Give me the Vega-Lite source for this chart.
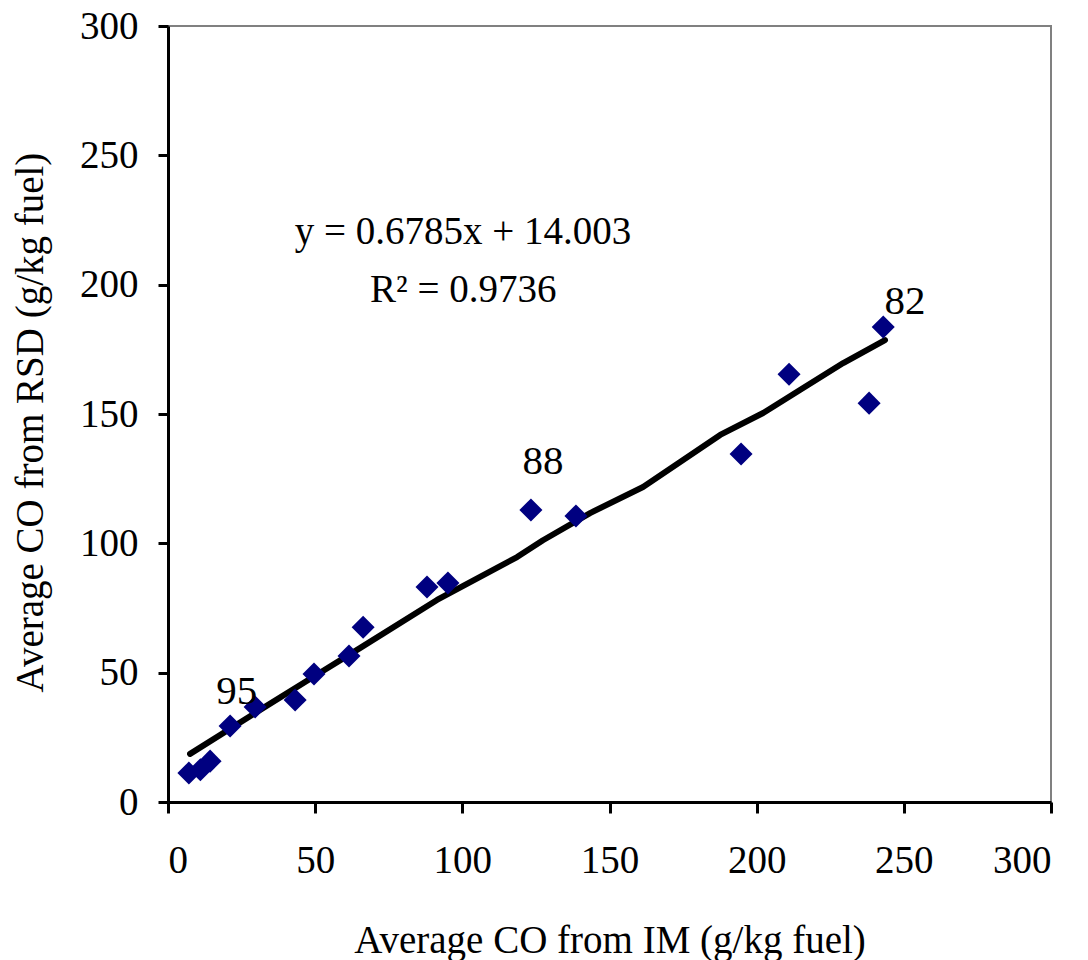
{
  "$schema": "https://vega.github.io/schema/vega-lite/v6.json",
  "width": 883,
  "height": 776,
  "autosize": {"type": "none"},
  "padding": {"left": 168, "top": 26, "right": 37, "bottom": 158},
  "background": "white",
  "config": {
    "view": {"stroke": "#808080", "strokeWidth": 2},
    "font": "Liberation Serif, Times New Roman, serif",
    "text": {"font": "Liberation Serif, Times New Roman, serif"},
    "axis": {
      "grid": false,
      "domainColor": "black",
      "domainWidth": 3,
      "tickColor": "black",
      "tickWidth": 3,
      "labelFont": "Liberation Serif, Times New Roman, serif",
      "labelFontSize": 39,
      "labelColor": "black",
      "titleFont": "Liberation Serif, Times New Roman, serif",
      "titleFontSize": 39,
      "titleFontWeight": "normal",
      "titleColor": "black"
    }
  },
  "datasets": {
    "points": [
      {"im": 7.1, "rsd": 11.2},
      {"im": 11.0, "rsd": 12.5},
      {"im": 14.3, "rsd": 15.8},
      {"im": 21.1, "rsd": 29.4},
      {"im": 29.6, "rsd": 36.7},
      {"im": 43.2, "rsd": 39.4},
      {"im": 49.6, "rsd": 49.5},
      {"im": 61.5, "rsd": 56.4},
      {"im": 66.3, "rsd": 67.6},
      {"im": 88.0, "rsd": 83.1},
      {"im": 95.1, "rsd": 84.7},
      {"im": 123.3, "rsd": 112.9},
      {"im": 138.6, "rsd": 110.6},
      {"im": 194.7, "rsd": 134.5},
      {"im": 211.0, "rsd": 165.4},
      {"im": 238.2, "rsd": 154.2},
      {"im": 243.0, "rsd": 183.6}
    ],
    "trend": [
      {"im": 7.5, "fit": 18.6},
      {"im": 31.3, "fit": 35.6},
      {"im": 49.3, "fit": 48.3},
      {"im": 65.2, "fit": 59.5},
      {"im": 91.4, "fit": 78.1},
      {"im": 118.6, "fit": 94.7},
      {"im": 127.4, "fit": 101.2},
      {"im": 143.4, "fit": 111.7},
      {"im": 161.4, "fit": 121.8},
      {"im": 174.0, "fit": 131.4},
      {"im": 187.6, "fit": 141.9},
      {"im": 202.2, "fit": 150.4},
      {"im": 214.7, "fit": 159.3},
      {"im": 229.4, "fit": 169.7},
      {"im": 243.6, "fit": 178.6}
    ],
    "labels": [
      {"im": 23.4, "rsd": 42.5, "label": "95"},
      {"im": 127.4, "rsd": 131.4, "label": "88"},
      {"im": 250.4, "rsd": 193.3, "label": "82"}
    ],
    "equation": [
      {"im": 100.2, "rsd": 220.3, "label": "y = 0.6785x + 14.003"},
      {"im": 100.3, "rsd": 197.9, "label": "R² = 0.9736"}
    ]
  },
  "layer": [
    {
      "data": {"name": "trend"},
      "mark": {"type": "line", "color": "black", "strokeWidth": 6, "strokeCap": "round", "strokeJoin": "round"},
      "encoding": {
        "x": {
          "field": "im", "type": "quantitative",
          "scale": {"domain": [0, 300], "nice": false, "zero": false},
          "axis": {
            "values": [0, 50, 100, 150, 200, 250, 300],
            "tickSize": 11,
            "labelPadding": 28,
            "title": "Average CO from IM (g/kg fuel)",
            "titleY": 150,
            "titleBaseline": "alphabetic"
          }
        },
        "y": {
          "field": "fit", "type": "quantitative",
          "scale": {"domain": [0, 300], "nice": false, "zero": false},
          "axis": {
            "values": [0, 50, 100, 150, 200, 250, 300],
            "tickSize": 10,
            "labelPadding": 20,
            "title": "Average CO from RSD (g/kg fuel)",
            "titleX": -126,
            "titleY": 396,
            "titleAngle": -90,
            "titleAlign": "center",
            "titleBaseline": "alphabetic"
          }
        }
      }
    },
    {
      "data": {"name": "points"},
      "mark": {"type": "point", "shape": "diamond", "filled": true, "size": 530, "color": "#000080", "opacity": 1},
      "encoding": {
        "x": {"field": "im", "type": "quantitative"},
        "y": {"field": "rsd", "type": "quantitative"}
      }
    },
    {
      "data": {"name": "labels"},
      "mark": {"type": "text", "font": "Liberation Serif, Times New Roman, serif", "fontSize": 41, "color": "black", "align": "center", "baseline": "middle"},
      "encoding": {
        "x": {"field": "im", "type": "quantitative"},
        "y": {"field": "rsd", "type": "quantitative"},
        "text": {"field": "label"}
      }
    },
    {
      "data": {"name": "equation"},
      "mark": {"type": "text", "font": "Liberation Serif, Times New Roman, serif", "fontSize": 39, "color": "black", "align": "center", "baseline": "middle"},
      "encoding": {
        "x": {"field": "im", "type": "quantitative"},
        "y": {"field": "rsd", "type": "quantitative"},
        "text": {"field": "label"}
      }
    }
  ]
}
